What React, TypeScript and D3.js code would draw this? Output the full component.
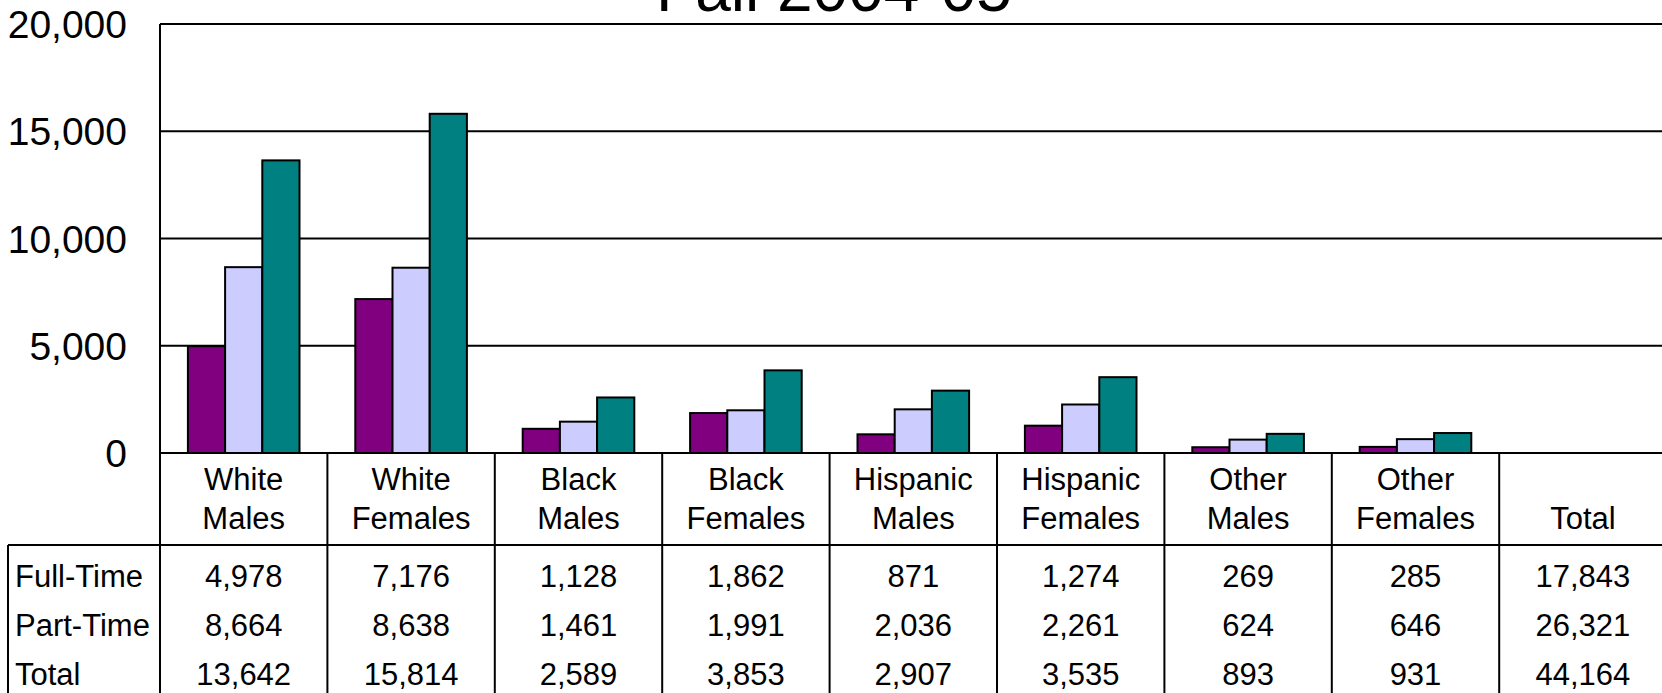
import React from "react";
import * as d3 from "d3";

const title = "Fall 2004-05";
const categories = [
  ["White", "Males"],
  ["White", "Females"],
  ["Black", "Males"],
  ["Black", "Females"],
  ["Hispanic", "Males"],
  ["Hispanic", "Females"],
  ["Other", "Males"],
  ["Other", "Females"],
  ["", "Total"],
];
const seriesNames = ["Full-Time", "Part-Time", "Total"];
const fullTime = [4978, 7176, 1128, 1862, 871, 1274, 269, 285, 17843];
const partTime = [8664, 8638, 1461, 1991, 2036, 2261, 624, 646, 26321];
const totals = [13642, 15814, 2589, 3853, 2907, 3535, 893, 931, 44164];
const plottedCount = 8; // the "Total" column has no bars
const yTicks = [0, 5000, 10000, 15000, 20000];
const colors = ["#800080", "#CCCCFF", "#008080"];

const W = 1662;
const H = 693;
const FONT = "'Liberation Sans', Arial, sans-serif";

export default function App() {
  const left = 160;
  const bandW = 167.4;
  const x = d3
    .scaleBand<number>()
    .domain(d3.range(categories.length))
    .range([left, left + bandW * categories.length])
    .paddingInner(0)
    .paddingOuter(0);
  const y = d3.scaleLinear().domain([0, 20000]).range([453, 24]);
  const series = [fullTime, partTime, totals];
  const bw = x.bandwidth() / 4.5;
  const groupOff = (x.bandwidth() - 3 * bw) / 2;
  const fmt = d3.format(",");
  const y0 = y(0);
  const headerBottom = 545;
  const rowBaselines = [587, 636, 685];

  return (
    <svg
      width={W}
      height={H}
      style={{ position: "absolute", left: 0, top: 0, background: "#fff" }}
      fontFamily={FONT}
    >
      <rect x={0} y={0} width={W} height={H} fill="#fff" />
      <text x={834} y={11} fontSize={64} textAnchor="middle" fill="#000">
        {title}
      </text>
      {yTicks.map((t) => (
        <line
          key={"g" + t}
          x1={left}
          x2={W + 10}
          y1={y(t)}
          y2={y(t)}
          stroke="#000"
          strokeWidth={2}
        />
      ))}
      {yTicks.map((t) => (
        <text
          key={"yl" + t}
          x={127}
          y={y(t)}
          dy="0.36em"
          fontSize={39}
          textAnchor="end"
          fill="#000"
        >
          {fmt(t)}
        </text>
      ))}
      {series.map((s, si) =>
        s.slice(0, plottedCount).map((v, ci) => (
          <rect
            key={`b${si}-${ci}`}
            x={(x(ci) as number) + groupOff + si * bw}
            y={y(v)}
            width={bw}
            height={y0 - y(v)}
            fill={colors[si]}
            stroke="#000"
            strokeWidth={2}
          />
        ))
      )}
      <line x1={left} x2={left} y1={y(20000)} y2={H} stroke="#000" strokeWidth={2} />
      {categories.map((_, i) =>
        i === 0 ? null : (
          <line
            key={"v" + i}
            x1={x(i) as number}
            x2={x(i) as number}
            y1={y0}
            y2={H}
            stroke="#000"
            strokeWidth={2}
          />
        )
      )}
      <line x1={8} x2={8} y1={headerBottom} y2={H} stroke="#000" strokeWidth={2} />
      <line x1={8} x2={W + 10} y1={headerBottom} y2={headerBottom} stroke="#000" strokeWidth={2} />
      <line x1={left} x2={W + 10} y1={y0} y2={y0} stroke="#000" strokeWidth={2} />
      {categories.map((c, i) => {
        const cx = (x(i) as number) + x.bandwidth() / 2;
        return (
          <g key={"c" + i}>
            {c[0] && (
              <text x={cx} y={490} fontSize={31} textAnchor="middle" fill="#000">
                {c[0]}
              </text>
            )}
            <text x={cx} y={529} fontSize={31} textAnchor="middle" fill="#000">
              {c[1]}
            </text>
          </g>
        );
      })}
      {seriesNames.map((n, si) => (
        <g key={"r" + si}>
          <text x={15} y={rowBaselines[si]} fontSize={31} fill="#000">
            {n}
          </text>
          {series[si].map((v, ci) => (
            <text
              key={"d" + ci}
              x={(x(ci) as number) + x.bandwidth() / 2}
              y={rowBaselines[si]}
              fontSize={31}
              textAnchor="middle"
              fill="#000"
            >
              {fmt(v)}
            </text>
          ))}
        </g>
      ))}
    </svg>
  );
}
